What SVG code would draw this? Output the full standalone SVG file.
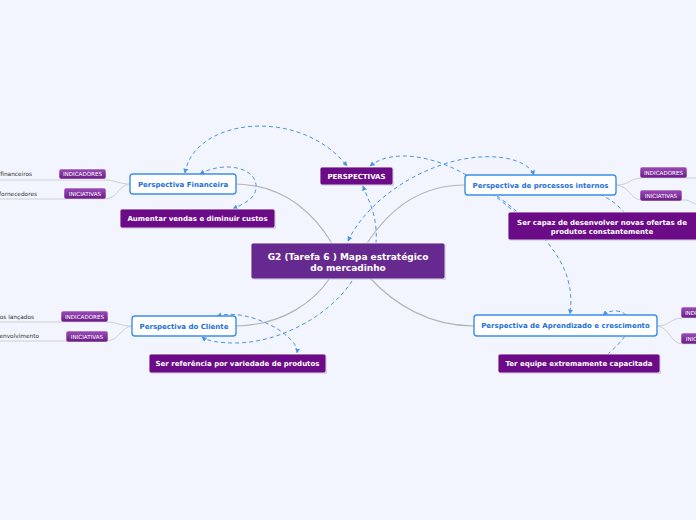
<svg xmlns="http://www.w3.org/2000/svg" width="696" height="520" viewBox="0 0 696 520">
<defs>
<style>
.bg{fill:#f2f5fe}
.main{fill:none;stroke:#b5b5b5;stroke-width:1.2}
.sub{fill:none;stroke:#cfcfcf;stroke-width:1}
.rel{fill:none;stroke:#4a93e6;stroke-width:1;stroke-dasharray:4 3}
.wn{fill:#ffffff;stroke:#3b8ee8;stroke-width:1.4}
.pn{fill:#6b0b87;stroke:#ffffff;stroke-width:0.8}
.cn{fill:#66298f;stroke:#ffffff;stroke-width:0.8}
.sh{fill:#000000;opacity:0.18}
.tag{fill:url(#tg);stroke:#ffffff;stroke-width:0.5}
.wt{font-family:"DejaVu Sans",Verdana,sans-serif;font-weight:bold;font-size:7px;fill:#1d6fd6;text-anchor:middle}
.pt{font-family:"DejaVu Sans",Verdana,sans-serif;font-weight:bold;font-size:7px;fill:#ffffff;text-anchor:middle}
.ct{font-family:"DejaVu Sans",Verdana,sans-serif;font-weight:bold;font-size:9px;fill:#ffffff;text-anchor:middle}
.tt{font-family:"DejaVu Sans",Verdana,sans-serif;font-size:5.6px;fill:#ffffff;text-anchor:middle}
.lt{font-family:"DejaVu Sans",Verdana,sans-serif;font-size:5.8px;fill:#333333;text-anchor:end}
</style>
<linearGradient id="tg" x1="0" y1="0" x2="0" y2="1">
<stop offset="0" stop-color="#9a4cb8"/>
<stop offset="1" stop-color="#6a1a85"/>
</linearGradient>
<marker id="ah" viewBox="0 0 10 10" refX="9" refY="5" markerWidth="5" markerHeight="5" orient="auto-start-reverse" markerUnits="userSpaceOnUse">
<path d="M0,0 L10,5 L0,10 z" fill="#4a93e6"/>
</marker>
</defs>
<rect class="bg" x="0" y="0" width="696" height="520"/>

<g id="connectors">
<!-- main branches -->
<path class="main" d="M236,184 C285,185 315,215 333,245"/>
<path class="main" d="M465,185 C420,185 388,210 366,245"/>
<path class="main" d="M236,326 C285,325 315,300 330,278"/>
<path class="main" d="M474,326 C430,326 395,305 370,278"/>
<!-- tag lines -->
<path class="sub" d="M130,184 C118,184 116,180 104,180 L0,180"/>
<path class="sub" d="M130,184 C118,185 118,199 104,199 L0,199"/>
<path class="sub" d="M132,326 C120,326 118,322 106,322 L0,322"/>
<path class="sub" d="M132,326 C120,327 120,341 106,341 L0,341"/>
<path class="sub" d="M616,185 C630,185 630,178 642,178 L696,178"/>
<path class="sub" d="M616,185 C630,186 630,200 642,200 L684,200 C690,200 692,203 696,204"/>
<path class="sub" d="M657,326 C670,326 670,318 683,318 L696,318"/>
<path class="sub" d="M657,326 C670,327 670,344 683,344 L696,344"/>
<!-- relationships -->
<path class="rel" d="M185,173 C194,118 300,106 347,166" marker-start="url(#ah)" marker-end="url(#ah)"/>
<path class="rel" d="M200,174 C225,160 258,168 256,188 C255,200 242,204 233,209" marker-start="url(#ah)" marker-end="url(#ah)"/>
<path class="rel" d="M370,166 C395,146 445,158 480,184 C495,196 506,205 515,212" marker-start="url(#ah)"/>
<path class="rel" d="M348,241 C370,195 430,160 480,157 C510,155 530,164 534,175" marker-start="url(#ah)" marker-end="url(#ah)"/>
<path class="rel" d="M363,186 C368,200 378,215 376,243" marker-start="url(#ah)"/>
<path class="rel" d="M352,281 C330,315 280,343 235,343 C220,343 207,341 202,337" marker-end="url(#ah)"/>
<path class="rel" d="M217,316 C240,310 268,322 282,332 C292,340 298,346 297,353" marker-start="url(#ah)" marker-end="url(#ah)"/>
<path class="rel" d="M600,194 C610,199 618,205 624,212"/>
<path class="rel" d="M497,196 C530,220 560,250 568,280 C572,295 571,305 570,314" marker-end="url(#ah)"/>
<path class="rel" d="M603,315 C612,308 625,310 630,320 C632,332 618,345 608,354" marker-start="url(#ah)"/>
</g>

<g id="central">
<rect class="sh" x="252" y="244" width="194" height="36" rx="2"/>
<rect class="cn" x="251" y="243" width="194" height="36" rx="2"/>
<text class="ct" x="348" y="259.5">G2 (Tarefa 6 ) Mapa estratégico</text>
<text class="ct" x="348" y="271">do mercadinho</text>
</g>

<g id="perspectivas">
<rect class="sh" x="321" y="168" width="73" height="18" rx="2"/>
<rect class="pn" x="320" y="167" width="73" height="18" rx="2"/>
<text class="pt" x="356.5" y="178.5">PERSPECTIVAS</text>
</g>

<g id="financeira">
<rect class="wn" x="130" y="174" width="106" height="20" rx="3"/>
<text class="wt" x="183" y="186.5">Perspectiva Financeira</text>
</g>

<g id="aumentar">
<rect class="sh" x="121" y="210" width="155" height="19" rx="2"/>
<rect class="pn" x="120" y="209" width="155" height="19" rx="2"/>
<text class="pt" x="197.5" y="221">Aumentar vendas e diminuir custos</text>
</g>

<g id="cliente">
<rect class="wn" x="132" y="316" width="104" height="20" rx="3"/>
<text class="wt" x="184" y="328.5">Perspectiva do Cliente</text>
</g>

<g id="referencia">
<rect class="sh" x="150" y="355" width="177" height="19" rx="2"/>
<rect class="pn" x="149" y="354" width="177" height="19" rx="2"/>
<text class="pt" x="237.5" y="366">Ser referência por variedade de produtos</text>
</g>

<g id="processos">
<rect class="wn" x="465" y="175" width="151" height="20" rx="3"/>
<text class="wt" x="540.5" y="187.5">Perspectiva de processos internos</text>
</g>

<g id="sercapaz">
<rect class="sh" x="509" y="213" width="188" height="28" rx="2"/>
<rect class="pn" x="508" y="212" width="190" height="28" rx="2"/>
<text class="pt" x="602" y="224.5">Ser capaz de desenvolver novas ofertas de</text>
<text class="pt" x="602" y="234">produtos constantemente</text>
</g>

<g id="aprendizado">
<rect class="wn" x="474" y="315" width="183" height="21" rx="3"/>
<text class="wt" x="565.5" y="328">Perspectiva de Aprendizado e crescimento</text>
</g>

<g id="equipe">
<rect class="sh" x="499" y="355" width="162" height="19" rx="2"/>
<rect class="pn" x="498" y="354" width="162" height="19" rx="2"/>
<text class="pt" x="579" y="366">Ter equipe extremamente capacitada</text>
</g>

<g id="fin-tags">
<rect class="tag" x="59" y="169" width="47" height="10" rx="2"/>
<text class="tt" x="82.5" y="176">INDICADORES</text>
<rect class="tag" x="64" y="188" width="42" height="11" rx="2"/>
<text class="tt" x="85" y="195.5">INICIATIVAS</text>
<text class="lt" x="32" y="176">financeiros</text>
<text class="lt" x="37" y="196">fornecedores</text>
</g>

<g id="cli-tags">
<rect class="tag" x="61" y="311" width="47" height="11" rx="2"/>
<text class="tt" x="84.5" y="318.5">INDICADORES</text>
<rect class="tag" x="66" y="331" width="42" height="11" rx="2"/>
<text class="tt" x="87" y="338.5">INICIATIVAS</text>
<text class="lt" x="34" y="319">tos lançados</text>
<text class="lt" x="39" y="338">senvolvimento</text>
</g>

<g id="proc-tags">
<rect class="tag" x="640" y="167" width="47" height="11" rx="2"/>
<text class="tt" x="663.5" y="174.5">INDICADORES</text>
<rect class="tag" x="640" y="190" width="42" height="11" rx="2"/>
<text class="tt" x="661" y="197.5">INICIATIVAS</text>
</g>

<g id="apr-tags">
<rect class="tag" x="681" y="307" width="47" height="11" rx="2"/>
<text class="tt" x="704.5" y="314.5">INDICADORES</text>
<rect class="tag" x="681" y="333" width="42" height="11" rx="2"/>
<text class="tt" x="702" y="340.5">INICIATIVAS</text>
</g>
</svg>
